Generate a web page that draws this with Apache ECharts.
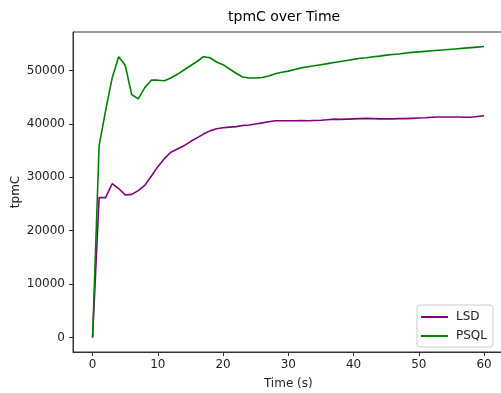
<!DOCTYPE html>
<html>
<head>
<meta charset="utf-8">
<title>tpmC over Time</title>
<script src="https://cdn.jsdelivr.net/npm/echarts@6/dist/echarts.min.js"></script>
<style>
  html, body { margin: 0; padding: 0; background: #fff; }
  #chart { width: 501px; height: 393px; }
</style>
</head>
<body>
<div id="chart"></div>
<script>
// Elapsed time in seconds for each sample
const times = [];
for (let t = 0; t <= 60; t++) times.push(t);

// Throughput (tpmC) sampled once per second
const lsd = [
  0, 26200, 26200, 28800, 27900, 26700, 26800, 27500, 28500, 30200,
  32000, 33500, 34700, 35300, 35900, 36700, 37400, 38100, 38700, 39100,
  39300, 39400, 39500, 39700, 39800, 40000, 40200, 40400, 40600, 40600,
  40600, 40600, 40650, 40600, 40650, 40700, 40800, 40900, 40850, 40900,
  40950, 41000, 41050, 41000, 40950, 40950, 40950, 41000, 41000, 41050,
  41100, 41150, 41250, 41300, 41300, 41300, 41300, 41250, 41250, 41400,
  41550
];
const psql = [
  0, 35900, 42500, 48600, 52600, 51000, 45500, 44700, 46800, 48200,
  48200, 48100, 48600, 49300, 50100, 50900, 51700, 52600, 52400, 51600,
  51100, 50300, 49500, 48800, 48600, 48600, 48700, 49000, 49400, 49700,
  49900, 50200, 50500, 50700, 50900, 51100, 51300, 51500, 51700, 51900,
  52100, 52300, 52400, 52600, 52700, 52900, 53000, 53100, 53300, 53400,
  53500, 53600, 53700, 53800, 53900, 54000, 54100, 54200, 54300, 54400,
  54500
];

// Tick positions
const xTicks = [0, 10, 20, 30, 40, 50, 60];
const yTicks = [0, 10000, 20000, 30000, 40000, 50000];

const seriesNames = ['LSD', 'PSQL'];
const seriesColors = ['#800080', '#008000'];

// Axis extents with a 5% margin around the data
const xMin = -3, xMax = 63;
const yTop = Math.max(...psql, ...lsd);
const yPad = yTop * 0.05;
const yMin = -yPad, yMax = yTop + yPad;

const font = 'DejaVu Sans';
const ink = '#222';
const fs = 12;

const chart = echarts.init(document.getElementById('chart'), null, { renderer: 'canvas' });

function pairs(values) {
  return times.map((t, i) => [t, values[i]]);
}

const plain = v => String(Math.round(v));

const axisCommon = {
  axisLine: { show: true, onZero: false, lineStyle: { color: '#333', width: 1 } },
  axisTick: { show: true, inside: false, length: 4, lineStyle: { color: '#333', width: 1 } },
  splitLine: { show: false },
  nameMoveOverlap: false,
  nameTextStyle: { fontFamily: font, fontSize: fs, color: ink },
};

chart.setOption({
  animation: false,
  backgroundColor: '#fff',
  title: {
    text: 'tpmC over Time',
    left: 228,
    top: 10,
    padding: 0,
    textStyle: { fontFamily: font, fontSize: 14, fontWeight: 'normal', color: '#000' }
  },
  grid: {
    left: 73, top: 32, right: -2.6, bottom: 41,
    show: true, borderColor: '#333', borderWidth: 1,
    backgroundColor: 'transparent',
    containLabel: false,
    outerBoundsMode: 'none'
  },
  legend: {
    data: seriesNames,
    orient: 'vertical',
    right: 8,
    bottom: 46,
    padding: [6, 6, 5, 4],
    itemGap: 7,
    itemWidth: 27,
    itemHeight: 2,
    icon: 'rect',
    backgroundColor: 'rgba(255,255,255,0.8)',
    borderColor: '#ccc',
    borderWidth: 1,
    borderRadius: 3,
    textStyle: { fontFamily: font, fontSize: fs, color: ink, padding: [0, 0, 0, 3] }
  },
  xAxis: Object.assign({}, axisCommon, {
    type: 'value',
    min: xMin,
    max: xMax,
    name: 'Time (s)',
    nameLocation: 'middle',
    nameGap: 26,
    axisTick: Object.assign({}, axisCommon.axisTick, { customValues: xTicks }),
    axisLabel: {
      customValues: xTicks,
      formatter: plain,
      fontFamily: font, fontSize: fs, color: ink, margin: 7
    }
  }),
  yAxis: Object.assign({}, axisCommon, {
    type: 'value',
    min: yMin,
    max: yMax,
    name: 'tpmC',
    nameLocation: 'middle',
    nameGap: 51,
    nameRotate: 90,
    axisTick: Object.assign({}, axisCommon.axisTick, { customValues: yTicks }),
    axisLabel: {
      customValues: yTicks,
      formatter: plain,
      fontFamily: font, fontSize: fs, color: ink, margin: 8
    }
  }),
  series: [
    {
      name: seriesNames[0],
      type: 'line',
      data: pairs(lsd),
      symbol: 'none',
      lineStyle: { color: seriesColors[0], width: 1.6 },
      itemStyle: { color: seriesColors[0] },
      z: 2
    },
    {
      name: seriesNames[1],
      type: 'line',
      data: pairs(psql),
      symbol: 'none',
      lineStyle: { color: seriesColors[1], width: 1.6 },
      itemStyle: { color: seriesColors[1] },
      z: 3
    }
  ]
});
</script>
</body>
</html>
